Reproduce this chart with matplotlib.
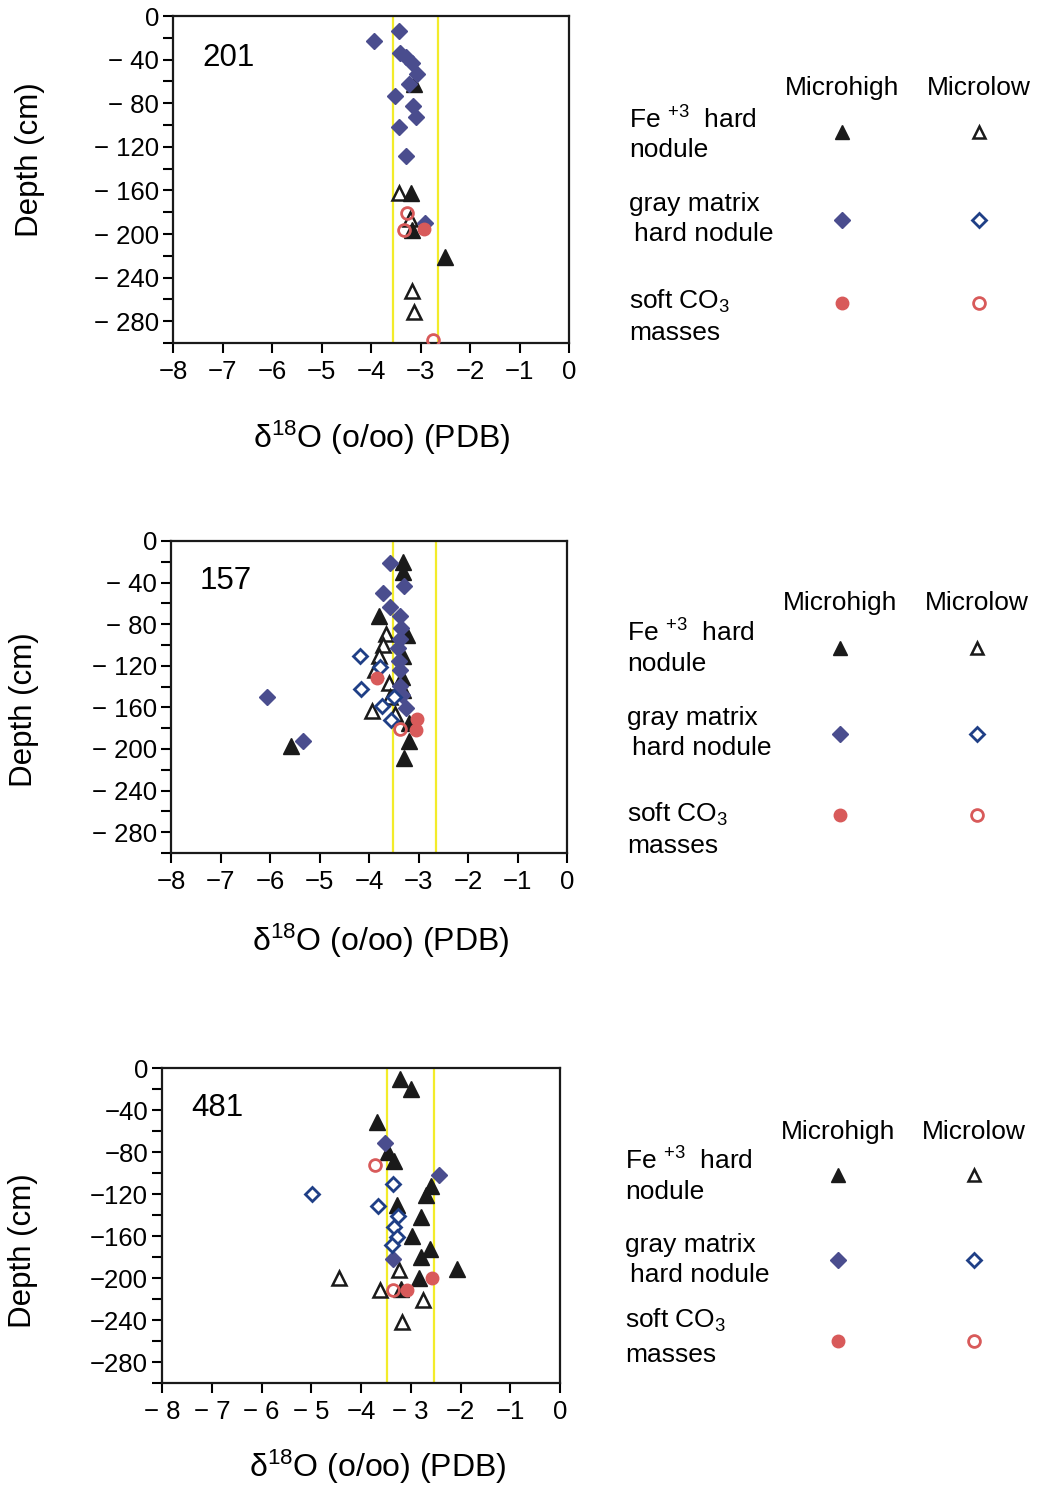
import matplotlib.pyplot as plt
from matplotlib.ticker import MultipleLocator

plt.rcParams["font.family"] = ["Liberation Sans", "DejaVu Sans"]
plt.rcParams["mathtext.fontset"] = "custom"
plt.rcParams["mathtext.rm"] = "Liberation Sans"
plt.rcParams["mathtext.default"] = "regular"

# ---- data (d18O in o/oo PDB, depth in cm) ----
# profile 201
p201_fe_high_x = [-3.20, -3.14, -2.51, -3.18]
p201_fe_high_y = [-162, -62, -221, -196]
p201_fe_low_x = [-3.44, -3.22, -3.17, -3.14]
p201_fe_low_y = [-162, -186, -252, -272]
p201_gm_high_x = [-3.44, -3.93, -3.41, -3.30, -3.17, -3.07, -3.24, -3.51, -3.16, -3.10, -3.43, -3.29, -2.90]
p201_gm_high_y = [-14, -23, -34, -38, -43, -53, -62, -73, -83, -93, -102, -128, -190]
p201_gm_low_x = []
p201_gm_low_y = []
p201_co3_high_x = [-2.93]
p201_co3_high_y = [-195]
p201_co3_low_x = [-3.28, -3.34, -2.74]
p201_co3_low_y = [-181, -196, -297]

# profile 157
p157_fe_high_x = [-3.31, -3.31, -3.80, -3.23, -3.31, -3.33, -3.31, -3.20, -3.30, -5.57, -3.20]
p157_fe_high_y = [-20, -30, -72, -90, -111, -131, -143, -192, -209, -197, -175]
p157_fe_low_x = [-3.65, -3.72, -3.80, -3.87, -3.60, -3.57, -3.94, -3.47]
p157_fe_low_y = [-89, -100, -111, -124, -137, -150, -163, -166]
p157_gm_high_x = [-3.57, -3.29, -3.72, -3.58, -3.38, -3.35, -3.37, -3.42, -3.38, -3.37, -3.25, -6.06, -5.33, -3.40, -3.33]
p157_gm_high_y = [-21, -43, -50, -63, -72, -84, -94, -103, -124, -139, -161, -150, -192, -115, -148]
p157_gm_low_x = [-4.19, -4.17, -3.77, -3.74, -3.50, -3.55]
p157_gm_low_y = [-111, -142, -121, -159, -150, -172]
p157_co3_high_x = [-3.04, -3.05, -3.84]
p157_co3_high_y = [-171, -182, -132]
p157_co3_low_x = [-3.38]
p157_co3_low_y = [-181]

# profile 481
p481_fe_high_x = [-3.21, -3.00, -3.67, -3.46, -3.34, -2.60, -2.70, -3.27, -2.80, -2.98, -2.61, -2.79, -2.07, -2.83, -3.19]
p481_fe_high_y = [-10, -20, -51, -80, -89, -112, -121, -130, -142, -160, -172, -180, -191, -200, -210]
p481_fe_low_x = [-4.44, -3.62, -3.23, -2.75, -3.17]
p481_fe_low_y = [-200, -211, -192, -221, -242]
p481_gm_high_x = [-3.52, -2.43, -3.35]
p481_gm_high_y = [-71, -102, -182]
p481_gm_low_x = [-4.98, -3.35, -3.66, -3.26, -3.34, -3.27, -3.37]
p481_gm_low_y = [-120, -110, -131, -141, -151, -161, -169]
p481_co3_high_x = [-3.08, -2.58]
p481_co3_high_y = [-211, -200]
p481_co3_low_x = [-3.72, -3.35]
p481_co3_low_y = [-92, -211]

# reference band (yellow lines)
band_201 = [-3.55, -2.64]
band_157 = [-3.51, -2.64]
band_481 = [-3.48, -2.54]

y_ticks = [0, -40, -80, -120, -160, -200, -240, -280]
x_ticks = [-8, -7, -6, -5, -4, -3, -2, -1, 0]
y_labels_spaced = ["0", "\u2212 40", "\u2212 80", "\u2212 120", "\u2212 160", "\u2212 200", "\u2212 240", "\u2212 280"]
y_labels_tight = ["0", "\u221240", "\u221280", "\u2212120", "\u2212160", "\u2212200", "\u2212240", "\u2212280"]
x_labels_tight = ["\u22128", "\u22127", "\u22126", "\u22125", "\u22124", "\u22123", "\u22122", "\u22121", "0"]
x_labels_spaced = ["\u2212 8", "\u2212 7", "\u2212 6", "\u2212 5", "\u22124", "\u2212 3", "\u22122", "\u22121", "0"]

NAVY = "#4a4d8e"
NAVY_EDGE = "#1f3f86"
RED = "#d85a5a"
BLACK = "#1a1a1a"
YELLOW = "#f3ec2a"

W, H = 1038, 1487
fig = plt.figure(figsize=(W / 100, H / 100), dpi=100)


def px_axes(left, top, right, bottom):
    return fig.add_axes([left / W, 1 - bottom / H, (right - left) / W, (bottom - top) / H])


def draw_panel(ax, name, band, fe_h, fe_l, gm_h, gm_l, co_h, co_l, ylabs, xlabs, ylab_pos, xlab_pos):
    for b in band:
        ax.axvline(b, color=YELLOW, lw=1.6, zorder=1)
    ax.plot(*fe_l, ls="none", marker="^", ms=10.5, mfc="white", mec=BLACK, mew=1.8, zorder=3)
    ax.plot(*fe_h, ls="none", marker="^", ms=11.5, mfc=BLACK, mec=BLACK, zorder=3)
    ax.plot(*gm_h, ls="none", marker="D", ms=8, mfc=NAVY, mec=NAVY, zorder=4)
    ax.plot(*gm_l, ls="none", marker="D", ms=7.5, mfc="white", mec=NAVY_EDGE, mew=2, zorder=4)
    ax.plot(*co_h, ls="none", marker="o", ms=9, mfc=RED, mec=RED, zorder=5)
    ax.plot(*co_l, ls="none", marker="o", ms=8.5, mfc="none", mec=RED, mew=2, zorder=5)

    ax.set_xlim(-8, 0)
    ax.set_ylim(-300, 0)
    ax.set_xticks(x_ticks)
    ax.set_xticklabels(xlabs)
    ax.set_yticks(y_ticks)
    ax.set_yticklabels(ylabs)
    ax.yaxis.set_minor_locator(MultipleLocator(20))
    ax.tick_params(which="both", direction="out", length=7, width=1.5, labelsize=18.5)
    ax.tick_params(axis="x", pad=5)
    ax.tick_params(axis="y", pad=3)
    for s in ax.spines.values():
        s.set_linewidth(1.6)
        s.set_color(BLACK)

    ax.text(0.073, 0.872, name, transform=ax.transAxes, fontsize=22.5, va="center", ha="left")
    ax.set_ylabel("Depth (cm)", fontsize=22.5, va="center")
    ax.yaxis.set_label_coords(*ylab_pos)
    ax.set_xlabel("\u03b4$^{18}$O (o/oo) (PDB)", fontsize=23, va="center")
    ax.xaxis.set_label_coords(*xlab_pos)


ax1 = px_axes(173, 16, 569, 343)
draw_panel(ax1, "201", band_201,
           (p201_fe_high_x, p201_fe_high_y), (p201_fe_low_x, p201_fe_low_y),
           (p201_gm_high_x, p201_gm_high_y), (p201_gm_low_x, p201_gm_low_y),
           (p201_co3_high_x, p201_co3_high_y), (p201_co3_low_x, p201_co3_low_y),
           y_labels_spaced, x_labels_tight, (-0.36, 0.56), (0.528, -0.29))

ax2 = px_axes(171, 541, 567, 853)
draw_panel(ax2, "157", band_157,
           (p157_fe_high_x, p157_fe_high_y), (p157_fe_low_x, p157_fe_low_y),
           (p157_gm_high_x, p157_gm_high_y), (p157_gm_low_x, p157_gm_low_y),
           (p157_co3_high_x, p157_co3_high_y), (p157_co3_low_x, p157_co3_low_y),
           y_labels_spaced, x_labels_tight, (-0.37, 0.46), (0.53, -0.28))

ax3 = px_axes(162, 1068, 560, 1383)
draw_panel(ax3, "481", band_481,
           (p481_fe_high_x, p481_fe_high_y), (p481_fe_low_x, p481_fe_low_y),
           (p481_gm_high_x, p481_gm_high_y), (p481_gm_low_x, p481_gm_low_y),
           (p481_co3_high_x, p481_co3_high_y), (p481_co3_low_x, p481_co3_low_y),
           y_labels_tight, x_labels_spaced, (-0.35, 0.42), (0.543, -0.267))

# ---- legend blocks, drawn on a full-figure overlay in pixel units ----
ov = fig.add_axes([0, 0, 1, 1], zorder=10)
ov.set_xlim(0, W)
ov.set_ylim(H, 0)
ov.axis("off")

# (text_x, col_high_x, col_low_x, header_y, fe_y, nodule_y, tri_y, gray_y, hardnod_y, dia_y, soft_y, masses_y, circ_y)
legend_layouts = [
    (629, 842, 979, 88, 120, 150, 132, 204, 234, 220, 301, 333, 303),
    (627, 840, 977, 603, 633, 664, 648, 718, 748, 734, 814, 846, 815),
    (625, 838, 974, 1132, 1161, 1192, 1175, 1245, 1275, 1260, 1320, 1355, 1341),
]
LFS = 19
for tx, cx1, cx2, hy, fy, ny, ty, gy, hny, dy, sy, my, cy in legend_layouts:
    ov.text(cx1, hy, "Microhigh", fontsize=LFS, ha="center", va="center")
    ov.text(cx2, hy, "Microlow", fontsize=LFS, ha="center", va="center")
    ov.text(tx, fy, "Fe $^{+3}$  hard", fontsize=LFS, ha="left", va="center")
    ov.text(tx, ny, "nodule", fontsize=LFS, ha="left", va="center")
    ov.text(tx, gy, "gray matrix", fontsize=LFS, ha="left", va="center")
    ov.text(tx + 5, hny, "hard nodule", fontsize=LFS, ha="left", va="center")
    ov.text(tx, sy, "soft CO$_3$", fontsize=LFS, ha="left", va="center")
    ov.text(tx, my, "masses", fontsize=LFS, ha="left", va="center")
    ov.plot([cx1], [ty], marker="^", ms=9.5, mfc=BLACK, mec=BLACK, ls="none")
    ov.plot([cx2], [ty], marker="^", ms=8.5, mfc="white", mec=BLACK, mew=1.8, ls="none")
    ov.plot([cx1], [dy], marker="D", ms=8, mfc=NAVY, mec=NAVY, ls="none")
    ov.plot([cx2], [dy], marker="D", ms=7.5, mfc="white", mec=NAVY_EDGE, mew=2, ls="none")
    ov.plot([cx1], [cy], marker="o", ms=9, mfc=RED, mec=RED, ls="none")
    ov.plot([cx2], [cy], marker="o", ms=8.5, mfc="white", mec=RED, mew=2, ls="none")

fig.savefig("out.png", dpi=100)
